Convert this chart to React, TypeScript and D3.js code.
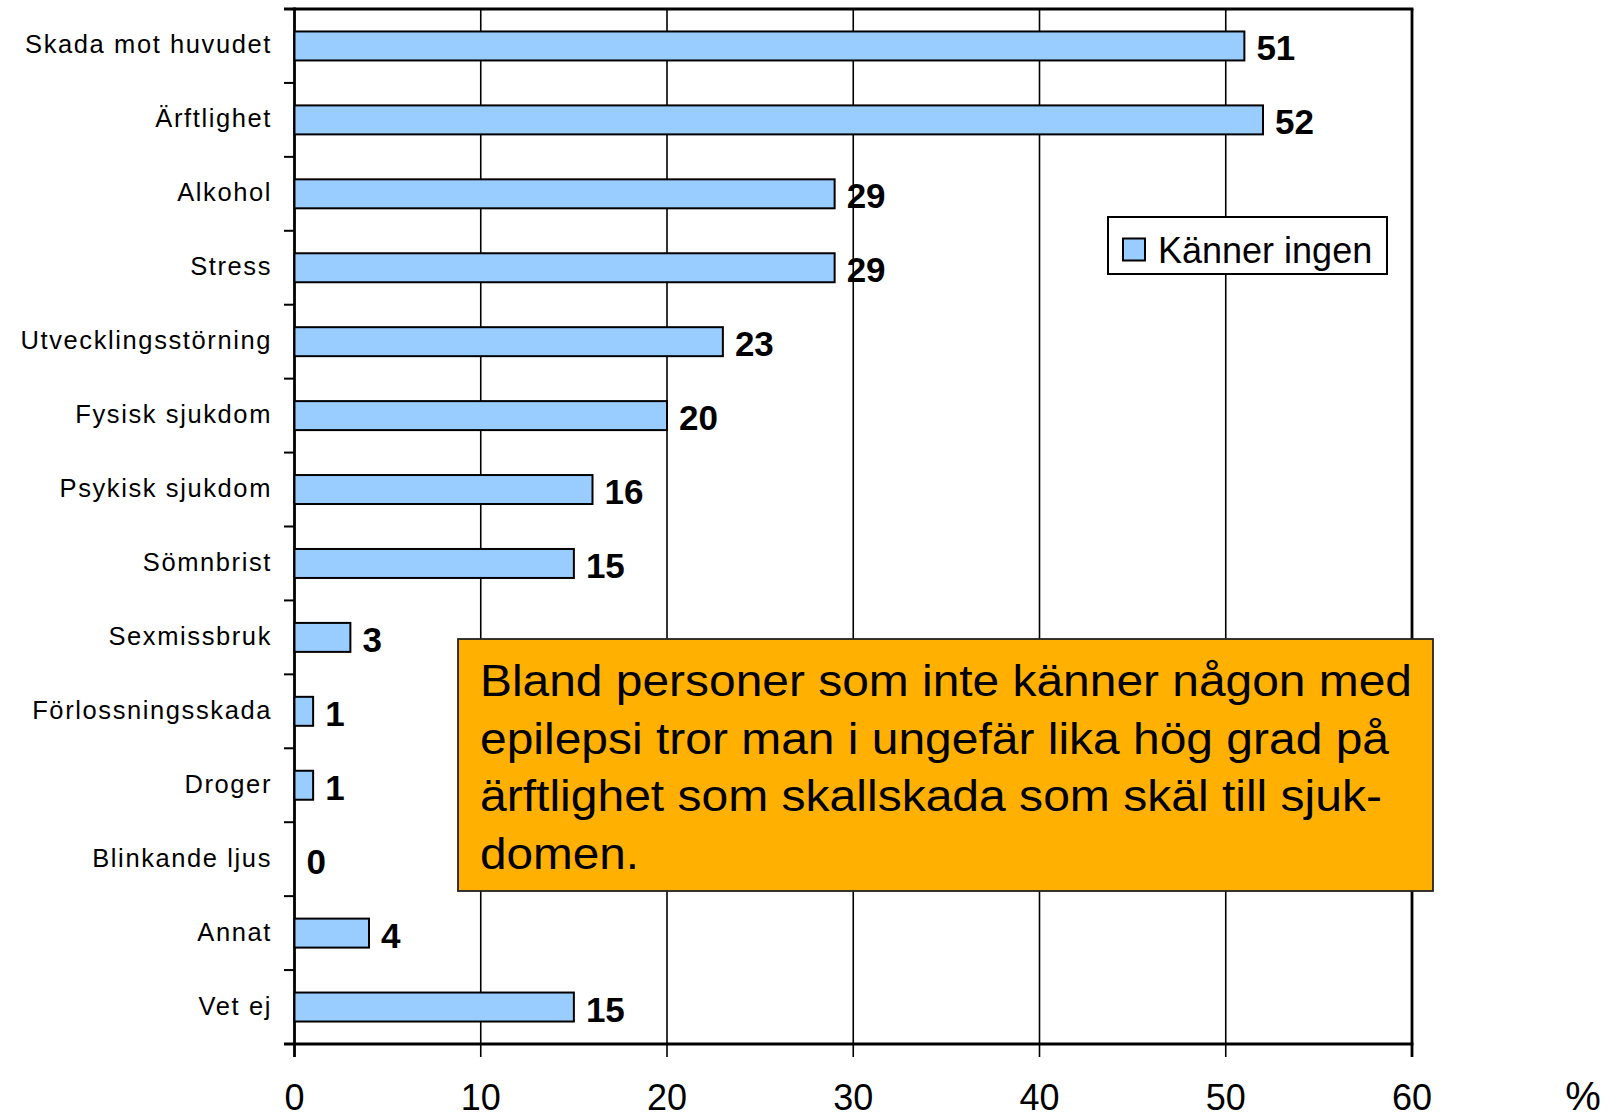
import React from "react";
import * as d3 from "d3";

const categories = [
  "Skada mot huvudet",
  "Ärftlighet",
  "Alkohol",
  "Stress",
  "Utvecklingsstörning",
  "Fysisk sjukdom",
  "Psykisk sjukdom",
  "Sömnbrist",
  "Sexmissbruk",
  "Förlossningsskada",
  "Droger",
  "Blinkande ljus",
  "Annat",
  "Vet ej",
];
const values = [51, 52, 29, 29, 23, 20, 16, 15, 3, 1, 1, 0, 4, 15];
const xTicks = [0, 10, 20, 30, 40, 50, 60];
const seriesName = "Känner ingen";
const unitLabel = "%";
const noteLines = [
  "Bland personer som inte känner någon med",
  "epilepsi tror man i ungefär lika hög grad på",
  "ärftlighet som skallskada som skäl till sjuk-",
  "domen.",
];

const W = 1621;
const H = 1118;
const FONT = '"Liberation Sans", Arial, Helvetica, sans-serif';

export default function App() {
  const left = 294.5;
  const right = 1412;
  const top = 9;
  const bottom = 1044;

  const x = d3.scaleLinear().domain([0, 60]).range([left, right]);
  const y = d3
    .scaleBand<string>()
    .domain(categories)
    .range([top, bottom])
    .paddingInner(0.608)
    .paddingOuter(0.304);
  const step = y.step();
  const boundaries = d3.range(categories.length + 1).map((i) => top + i * step);

  const noteX = 458;
  const noteY = 639;
  const noteW = 975;
  const noteH = 252;
  const noteWidths = [932, 909, 902, 159];

  return (
    <svg
      width={W}
      height={H}
      style={{ position: "absolute", left: 0, top: 0, background: "#fff", fontFamily: FONT }}
    >
      <rect x={0} y={0} width={W} height={H} fill="#fff" />
      {xTicks.slice(1, -1).map((t) => (
        <line key={"g" + t} x1={x(t)} x2={x(t)} y1={top} y2={bottom + 13} stroke="#000" strokeWidth={1.6} />
      ))}
      <line x1={right} x2={right} y1={top} y2={bottom + 13} stroke="#000" strokeWidth={2.8} />
      <line x1={284} x2={right + 1.4} y1={top} y2={top} stroke="#000" strokeWidth={2.8} />
      <line x1={284} x2={right + 1.4} y1={bottom} y2={bottom} stroke="#000" strokeWidth={3} />
      <line x1={left} x2={left} y1={top - 1.4} y2={bottom + 13} stroke="#000" strokeWidth={2.8} />
      {boundaries.map((b, i) => (
        <line key={"t" + i} x1={284} x2={left} y1={b} y2={b} stroke="#000" strokeWidth={2} />
      ))}
      {categories.map((c, i) =>
        values[i] > 0 ? (
          <rect
            key={"b" + c}
            x={x(0)}
            y={y(c)!}
            width={x(values[i]) - x(0)}
            height={y.bandwidth()}
            fill="#99CCFF"
            stroke="#000"
            strokeWidth={2}
          />
        ) : null
      )}
      {categories.map((c) => (
        <text
          key={"l" + c}
          x={272}
          y={y(c)! + y.bandwidth() / 2 + 7.5}
          textAnchor="end"
          fontSize={25.5}
          letterSpacing={1.6}
          fill="#000"
          style={{ fontFamily: FONT }}
        >
          {c}
        </text>
      ))}
      {categories.map((c, i) => (
        <text
          key={"v" + c}
          x={x(values[i]) + 12}
          y={y(c)! + y.bandwidth() / 2 + 14.5}
          fontSize={35}
          fontWeight="bold"
          fill="#000"
          style={{ fontFamily: FONT }}
        >
          {values[i]}
        </text>
      ))}
      {xTicks.map((t) => (
        <text
          key={"x" + t}
          x={x(t)}
          y={1110}
          textAnchor="middle"
          fontSize={36}
          fill="#000"
          style={{ fontFamily: FONT }}
        >
          {t}
        </text>
      ))}
      <text x={1583} y={1110} textAnchor="middle" fontSize={40} fill="#000" style={{ fontFamily: FONT }}>
        {unitLabel}
      </text>
      <rect x={1108} y={217} width={279} height={57} fill="#fff" stroke="#000" strokeWidth={2} />
      <rect x={1123} y={238.5} width={22} height={22} fill="#99CCFF" stroke="#000" strokeWidth={2} />
      <text x={1158} y={262.5} fontSize={36} fill="#000" style={{ fontFamily: FONT }}>
        {seriesName}
      </text>
      <rect x={noteX} y={noteY} width={noteW} height={noteH} fill="#FFB000" stroke="#222" strokeWidth={1.8} />
      {noteLines.map((line, i) => (
        <text
          key={"n" + i}
          x={480}
          y={696 + i * 57.7}
          fontSize={45}
          fill="#000"
          textLength={noteWidths[i]}
          lengthAdjust="spacingAndGlyphs"
          style={{ fontFamily: FONT }}
        >
          {line}
        </text>
      ))}
    </svg>
  );
}
